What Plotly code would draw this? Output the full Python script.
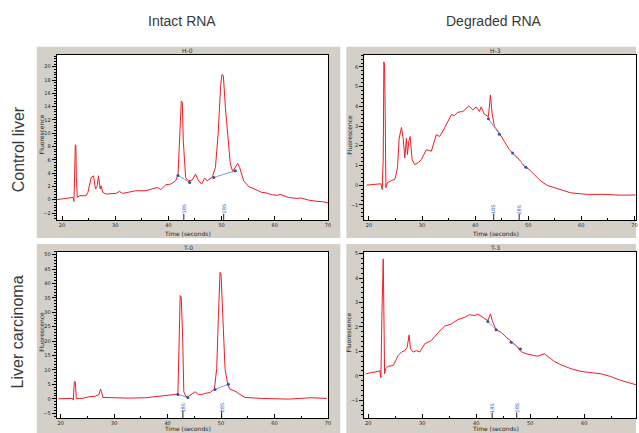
import plotly.graph_objects as go

W, H = 639, 433

# ---------------- data ----------------
tl_time = [18.94, 22.06, 22.24, 22.5, 22.6, 22.68, 22.8, 22.87, 23.3, 24.55, 24.86, 25.48, 25.92, 26.29, 26.6,
           26.85, 27.17, 27.35, 27.66, 28.29, 30.16, 30.78, 31.4, 32.65, 33.89, 35.76, 37.94, 38.57, 39.5, 40.44,
           41.37, 41.81, 42.12, 42.43, 42.62, 42.8, 43.24, 43.74, 44.49, 45.11, 45.61, 46.23, 46.85, 47.29, 48.22,
           48.85, 49.35, 49.84, 50.09, 50.34, 50.72, 51.21, 51.65, 52.09, 52.59, 53.02, 53.4, 54.14, 55.08, 56.3,
           57.57, 58.5, 59.44, 60.5, 61.0, 62.55, 64.0, 65.0, 66.29, 68.0, 69.0, 70.03]
tl_fluor = [0.0, 0.35, -0.25, 8.25, 8.2, 3.5, 0.4, 0.35, 0.6, 0.6, 1.1, 3.35, 3.6, 1.6, 2.0,
            3.6, 1.6, 2.1, 1.1, 0.85, 0.95, 1.25, 0.95, 1.1, 1.35, 1.35, 1.85, 1.5, 2.25, 2.35,
            2.85, 3.75, 8.85, 14.85, 14.6, 8.85, 3.35, 2.85, 2.95, 3.85, 2.95, 2.35, 3.25, 2.85, 3.35,
            4.85, 9.85, 17.35, 18.85, 18.6, 13.85, 8.85, 5.35, 4.25, 4.85, 5.45, 4.85, 2.85, 2.0, 1.5,
            1.1, 1.0, 0.75, 0.65, 0.8, 0.35, 0.2, 0.25, -0.05, -0.25, -0.3, -0.5]

tr_time = [19.56, 21.75, 22.25, 22.5, 22.69, 22.81, 22.94, 23.06, 23.19, 23.5, 24.25, 24.88, 25.38, 25.69, 26.13,
           26.44, 26.75, 27.06, 27.25, 27.5, 27.75, 28.13, 28.63, 29.25, 29.88, 30.81, 31.75, 32.69, 33.31, 34.25,
           35.5, 36.13, 36.75, 37.69, 38.81, 39.56, 40.19, 40.81, 41.13, 41.75, 42.5, 42.88, 43.19, 43.63, 44.56,
           45.5, 46.44, 47.38, 48.31, 49.25, 50.19, 51.13, 52.38, 53.63, 54.88, 56.75, 58.0, 61.13, 64.25, 67.38, 70.31]
tr_fluor = [0.0, 0.03, 0.07, -0.22, 1.38, 6.26, 6.09, 3.65, -0.13, 0.12, 0.24, 0.29, 0.88, 2.39, 2.93,
            2.39, 1.38, 2.39, 1.55, 2.22, 2.47, 1.3, 1.04, 1.13, 1.3, 1.8, 1.72, 2.56, 2.47, 2.9,
            3.57, 3.54, 3.7, 3.74, 4.02, 3.82, 3.97, 3.74, 3.97, 3.6, 3.48, 4.58, 3.65, 2.98, 2.64,
            2.22, 1.8, 1.55, 1.3, 0.96, 0.79, 0.54, 0.2, -0.02, -0.13, -0.3, -0.39, -0.47, -0.47, -0.51, -0.5]

bl_time = [19.57, 22.17, 22.36, 22.55, 22.73, 22.92, 24.04, 25.28, 26.52, 27.14, 27.45, 27.64, 27.89, 29.01, 32.73,
           35.84, 38.32, 40.19, 41.43, 41.93, 42.17, 42.36, 42.55, 42.8, 43.04, 43.42, 43.79, 44.53, 45.16, 45.78,
           46.4, 47.02, 47.95, 48.76, 49.19, 49.5, 49.81, 50.0, 50.31, 50.75, 51.24, 51.68, 52.61, 53.54, 54.47,
           57.58, 62.55, 66.89, 69.81]
bl_fluor = [0.0, 0.12, -0.46, 5.88, 5.88, 0.12, 0.12, 0.69, 0.92, 1.5, 3.34, 2.42, 0.46, 0.35, 0.23,
            0.35, 0.81, 1.04, 1.5, 1.73, 22.0, 35.83, 35.25, 23.16, 2.42, 0.81, 0.69, 1.5, 2.42, 1.5,
            1.5, 1.84, 2.19, 3.34, 10.48, 27.76, 43.89, 43.32, 27.76, 10.48, 5.07, 3.34, 2.65, 1.5, 0.46,
            0.12, -0.12, 0.35, 0.12]

br_time = [19.51, 20.62, 21.85, 22.15, 22.34, 22.52, 22.65, 22.77, 22.89, 23.02, 23.2, 23.69, 24.62, 25.05, 25.54,
           26.15, 26.77, 27.2, 27.57, 27.82, 28.31, 28.92, 29.54, 30.46, 31.69, 32.92, 34.15, 35.38, 36.62, 37.85,
           38.77, 39.69, 40.31, 41.23, 42.15, 42.65, 42.95, 43.69, 44.62, 45.54, 46.46, 47.38, 48.31, 49.23, 50.15,
           51.38, 52.62, 53.54, 54.46, 55.69, 57.54, 59.38, 61.23, 63.08, 64.92, 66.77, 69.66]
br_fluor = [0.08, 0.12, 0.18, 0.22, -0.08, 2.41, 4.71, 4.78, 2.67, 0.08, 0.29, 0.39, 0.42, 0.59, 0.83,
            0.97, 1.03, 1.17, 1.67, 1.1, 0.97, 1.03, 0.97, 1.31, 1.44, 1.76, 2.03, 2.12, 2.3, 2.39,
            2.5, 2.46, 2.52, 2.39, 2.26, 2.53, 2.26, 1.88, 1.78, 1.58, 1.4, 1.24, 0.99, 0.9, 0.86,
            0.8, 0.9, 0.76, 0.59, 0.45, 0.29, 0.18, 0.12, 0.08, -0.03, -0.19, -0.37]

# peak baselines (pairs of segments)
tl_base_t = [[41.81, 44.0], [48.53, 52.59]]
tl_base_f = [[3.65, 2.6], [3.35, 4.35]]
tr_base_t = [[42.5, 44.56], [47.06, 49.56]]
tr_base_f = [[3.37, 2.59], [1.63, 0.91]]
bl_base_t = [[41.93, 43.79], [48.88, 51.37]]
bl_base_f = [[1.5, 0.46], [3.23, 5.07]]
br_base_t = [[42.15, 43.69], [46.46, 48.18]]
br_base_f = [[2.22, 1.88], [1.37, 1.1]]

# rRNA peak markers
marker_names = ["18S", "28S"]
tl_marker_t = [42.9, 50.4]
tr_marker_t = [43.5, 48.3]
bl_marker_t = [42.86, 50.12]
br_marker_t = [42.95, 47.5]

panel_titles = ["H-0", "H-3", "T-0", "T-3"]
column_titles = ["Intact RNA", "Degraded RNA"]
row_titles = ["Control liver", "Liver carcinoma"]

# ---------------- layout helpers ----------------
def px(p):
    return p / W

def py(p):
    return 1 - p / H

GRAY = "#d4d0c8"
RED = "#ee1c24"
BLUE = "#8c96d8"

fig = go.Figure()

panels = [
    dict(t=tl_time, f=tl_fluor, bt=tl_base_t, bf=tl_base_f, mt=tl_marker_t, xa="x", ya="y",
         xd=(57, 330), yd=(53, 219), xr=[19.0, 70.1], yr=[-3.05, 21.8], dt=2, ml=-1.35, mls=-2.1,
         frame=(37, 45, 342, 237), tpos=233),
    dict(t=tr_time, f=tr_fluor, bt=tr_base_t, bf=tr_base_f, mt=tr_marker_t, xa="x2", ya="y2",
         xd=(366, 639), yd=(53, 219), xr=[19.12, 70.3], yr=[-1.77, 6.62], dt=1, ml=-1.23, mls=-1.45,
         frame=(348, 45, 660, 237), tpos=233),
    dict(t=bl_time, f=bl_fluor, bt=bl_base_t, bf=bl_base_f, mt=bl_marker_t, xa="x3", ya="y3",
         xd=(57, 330), yd=(251, 418), xr=[19.26, 70.1], yr=[-6.7, 51.0], dt=5, ml=-3.1, mls=-4.2,
         frame=(37, 243, 342, 440), tpos=428.5),
    dict(t=br_time, f=br_fluor, bt=br_base_t, bf=br_base_f, mt=br_marker_t, xa="x4", ya="y4",
         xd=(366, 639), yd=(251, 418), xr=[19.26, 69.6], yr=[-1.73, 5.07], dt=1, ml=-1.31, mls=-1.5,
         frame=(348, 243, 660, 440), tpos=428.5),
]

shapes = []
annotations = []

for i, p in enumerate(panels):
    x0, y0, x1, y1 = p["frame"]
    shapes.append(dict(type="rect", xref="paper", yref="paper", layer="below",
                       x0=px(x0), x1=min(px(x1), 1.0), y0=max(py(y1), 0.0), y1=py(y0),
                       fillcolor=GRAY, line=dict(width=0)))
    shapes.append(dict(type="rect", xref="paper", yref="paper", layer="below",
                       x0=px(p["xd"][0]), x1=px(p["xd"][1]), y0=py(p["yd"][1]), y1=py(p["yd"][0]),
                       fillcolor="white", line=dict(width=0)))
    # red electropherogram
    fig.add_trace(go.Scatter(x=p["t"], y=p["f"], mode="lines", xaxis=p["xa"], yaxis=p["ya"],
                             line=dict(color=RED, width=1), hoverinfo="skip", showlegend=False))
    # baselines
    for bt, bf in zip(p["bt"], p["bf"]):
        fig.add_trace(go.Scatter(x=bt, y=bf, mode="lines+markers", xaxis=p["xa"], yaxis=p["ya"],
                                 line=dict(color=BLUE, width=1),
                                 marker=dict(color="#3050a0", size=3, symbol="circle"),
                                 hoverinfo="skip", showlegend=False))
    # markers: tick line + label
    for mt, name in zip(p["mt"], marker_names):
        shapes.append(dict(type="line", xref=p["xa"], yref=p["ya"], x0=mt, x1=mt,
                           y0=p["mls"], y1=p["yr"][0], line=dict(color="#202020", width=1)))
        annotations.append(dict(x=mt, y=p["ml"], xref=p["xa"], yref=p["ya"], text=name,
                                showarrow=False, textangle=-90,
                                font=dict(size=5, color="#3a66c4", family="DejaVu Sans")))
    # panel title
    cx = (p["xd"][0] + p["xd"][1]) / 2 - 5
    annotations.append(dict(x=px(cx), y=py(y0 + 3.5), xref="paper", yref="paper", text=panel_titles[i],
                            showarrow=False, xanchor="center", yanchor="middle",
                            font=dict(size=6, color="#303030", family="DejaVu Sans")))
    # axis titles
    annotations.append(dict(x=px(p["xd"][0] - 15), y=py((p["yd"][0] + p["yd"][1]) / 2 - 3),
                            xref="paper", yref="paper", text="Fluorescence", showarrow=False,
                            textangle=-90, xanchor="center", yanchor="middle",
                            font=dict(size=6, color="#202020", family="DejaVu Sans")))
    annotations.append(dict(x=px(cx), y=py(p["tpos"]), xref="paper", yref="paper",
                            text="Time (seconds)", showarrow=False, xanchor="center", yanchor="middle",
                            font=dict(size=6, color="#202020", family="DejaVu Sans")))

    axis_common = dict(showline=True, linecolor="#000000", linewidth=1, mirror=True, zeroline=False,
                       showgrid=False, tickcolor="#000000", tickwidth=1,
                       tickfont=dict(size=5, color="#202020", family="DejaVu Sans"), fixedrange=True)
    fig.layout[p["xa"].replace("x", "xaxis")] = dict(
        domain=[px(p["xd"][0]), px(p["xd"][1])], range=p["xr"], anchor=p["ya"],
        tick0=20, dtick=10, ticks="inside", ticklen=4,
        minor=dict(ticks="inside", dtick=5, tick0=20, ticklen=2, tickcolor="#000000"), **axis_common)
    fig.layout[p["ya"].replace("y", "yaxis")] = dict(
        domain=[py(p["yd"][1]), py(p["yd"][0])], range=p["yr"], anchor=p["xa"],
        tick0=0, dtick=p["dt"], ticks="outside", ticklen=4,
        minor=dict(ticks="outside", dtick=p["dt"] / 5, tick0=0, ticklen=2, tickcolor="#000000"), **axis_common)

# column and row headers
for xc, txt in zip([183, 496], column_titles):
    annotations.append(dict(x=px(xc), y=py(19), xref="paper", yref="paper", text=txt, showarrow=False,
                            xanchor="center", yanchor="middle",
                            font=dict(size=14, color="#3a3a3a", family="Liberation Sans")))
for yc, txt in zip([148, 331], row_titles):
    annotations.append(dict(x=px(18), y=py(yc), xref="paper", yref="paper", text=txt, showarrow=False,
                            textangle=-90, xanchor="center", yanchor="middle",
                            font=dict(size=16, color="#3a3a3a", family="Liberation Sans")))

fig.update_layout(width=W, height=H, margin=dict(l=0, r=0, t=0, b=0), paper_bgcolor="white",
                  plot_bgcolor="white", shapes=shapes, annotations=annotations, showlegend=False)

fig.write_html("out.html", config={"displayModeBar": False},
               post_script="document.body.style.margin='0px';document.body.style.overflow='hidden';")
